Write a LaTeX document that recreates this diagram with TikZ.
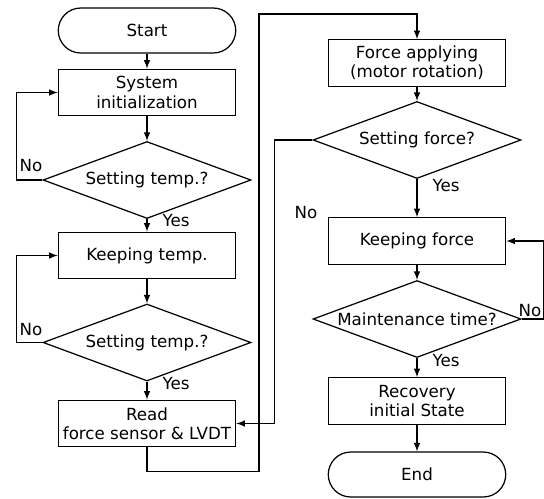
\documentclass[tikz,border=0pt]{standalone}
\usepackage{fontspec}
\setmainfont{DejaVu Sans}
\usetikzlibrary{shapes.geometric}

\begin{document}
\begin{tikzpicture}[x=0.02cm, y=-0.02cm, line width=0.7pt,
    every node/.style={font=\fontsize{9.5}{11}\selectfont, align=center},
    proc/.style={draw, rectangle, inner sep=1pt, minimum width=3.55cm, minimum height=0.93cm},
    term/.style={draw, rectangle, rounded corners=0.45cm, minimum width=3.55cm, minimum height=0.9cm},
    dec/.style={draw, diamond, aspect=2.7, inner sep=0pt, minimum width=4.16cm, minimum height=1.54cm},
    arr/.style={-latex}]
    \useasboundingbox (0,0) rectangle (544,498);
    % left column
    \node[term] (start) at (147,30.5) {Start};
    \node[proc] (init) at (147,92.5) {System\\initialization};
    \node[dec] (dec1) at (147,180) {Setting temp.?};
    \node[proc] (keept) at (147,255.5) {Keeping temp.};
    \node[dec] (dec2) at (147,342.5) {Setting temp.?};
    \node[proc] (read) at (147,423.5) {Read\\force sensor \& LVDT};
    % right column
    \node[proc] (force) at (417,63) {Force applying\\(motor rotation)};
    \node[dec] (dec3) at (417,140) {Setting force?};
    \node[proc] (keepf) at (417,241) {Keeping force};
    \node[dec] (dec4) at (417,319) {Maintenance time?};
    \node[proc] (recov) at (417,401) {Recovery\\initial State};
    \node[term] (end) at (417,474.5) {End};
    \coordinate (top) at (259,14);
    %\\
    \draw[arr] (start) -- (init);
    \draw[arr] (init) -- (dec1);
    \draw[arr] (dec1.west) -- ++(-26,0) |- (init.west);
    \draw[arr] (dec1) -- (keept);
    \draw[arr] (keept) -- (dec2);
    \draw[arr] (dec2.west) -- ++(-26,0) |- (keept.west);
    \draw[arr] (dec2) -- (read);
    \draw[arr] (read.south) -- ++(0,24) -| (top) -| (force.north);
    %\\
    \draw[arr] (force) -- (dec3);
    \draw[arr] (dec3.west) -- ++(-38,0) |- (read.east);
    \draw[arr] (dec3) -- (keepf);
    \draw[arr] (keepf) -- (dec4);
    \draw[arr] (dec4.east) -- ++(22,0) |- (keepf.east);
    \draw[arr] (dec4) -- (recov);
    \draw[arr] (recov) -- (end);
    %\\
    \node (no1) at (31,166) {No};
    \node (yes1) at (176,221) {Yes};
    \node (no2) at (31,330) {No};
    \node (yes2) at (176,384) {Yes};
    \node (no3) at (306,213) {No};
    \node (yes3) at (446,186) {Yes};
    \node (no4) at (530,311) {No};
    \node (yes4) at (446,361) {Yes};
\end{tikzpicture}
\end{document}
